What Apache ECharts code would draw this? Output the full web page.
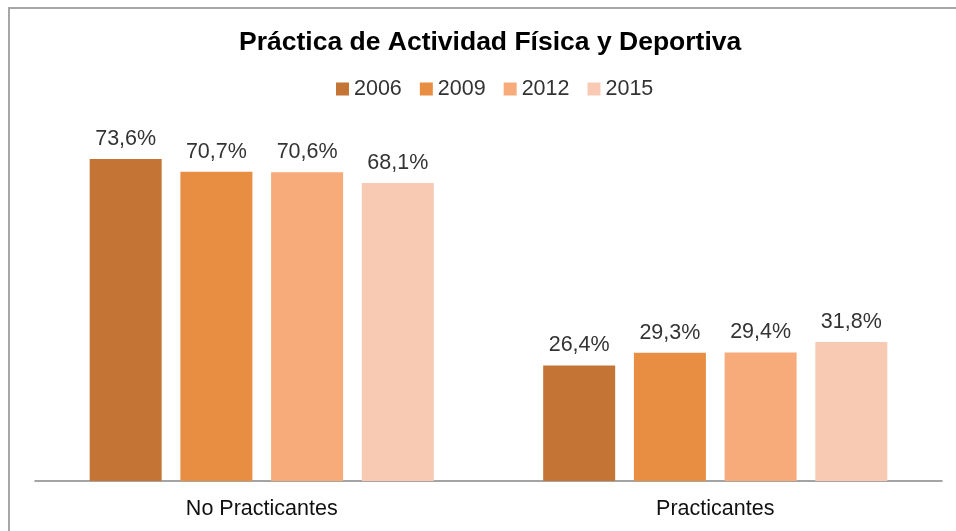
<!DOCTYPE html>
<html>
<head>
<meta charset="utf-8">
<script src="https://cdn.jsdelivr.net/npm/echarts@6/dist/echarts.min.js"></script>
<style>
  html, body { margin: 0; padding: 0; background: #fff; }
  #chart { width: 956px; height: 531px; }
</style>
</head>
<body>
<div id="chart"></div>
<script>
// datos
var categories = ['No Practicantes', 'Practicantes'];
var years = ['2006', '2009', '2012', '2015'];
var v2006 = [73.6, 26.4];
var v2009 = [70.7, 29.3];
var v2012 = [70.6, 29.4];
var v2015 = [68.1, 31.8];
var colors = ['#C47535', '#E88E43', '#F7AA7A', '#F8CAB4'];

var values = [v2006, v2009, v2012, v2015];
var font = 'Liberation Sans, Arial, sans-serif';

var chart = echarts.init(document.getElementById('chart'));

var series = years.map(function (y, i) {
  return {
    name: y,
    type: 'bar',
    data: values[i],
    barWidth: 72,
    barGap: '26%',
    itemStyle: { color: colors[i] },
    label: {
      show: true,
      position: 'top',
      distance: 9,
      color: '#333',
      fontFamily: font,
      fontSize: 21.5,
      formatter: function (p) {
        return p.value.toFixed(1).replace('.', ',') + '%';
      }
    }
  };
});

chart.setOption({
  animation: false,
  backgroundColor: '#fff',
  title: {
    text: 'Práctica de Actividad Física y Deportiva',
    left: 234,
    top: 24,
    textStyle: { fontFamily: font, fontSize: 26.5, fontWeight: 'bold', color: '#000' }
  },
  legend: {
    data: years,
    top: 73,
    left: 331,
    itemWidth: 13,
    itemHeight: 13,
    itemGap: 18,
    icon: 'rect',
    textStyle: { fontFamily: font, fontSize: 21.5, color: '#333' }
  },
  grid: { left: 35, right: 14, top: 131, bottom: 50 },
  xAxis: {
    type: 'category',
    data: categories,
    axisTick: { show: false },
    axisLine: { lineStyle: { color: '#868686', width: 1.5 } },
    axisLabel: { fontFamily: font, fontSize: 21.5, color: '#111', margin: 17 }
  },
  yAxis: {
    type: 'value',
    min: 0,
    max: 80,
    show: false
  },
  graphic: [{
    type: 'rect',
    shape: { x: 9, y: 8, width: 1000, height: 600 },
    style: { fill: null, stroke: '#A6A6A6', lineWidth: 2 },
    silent: true
  }],
  series: series
});
</script>
</body>
</html>
